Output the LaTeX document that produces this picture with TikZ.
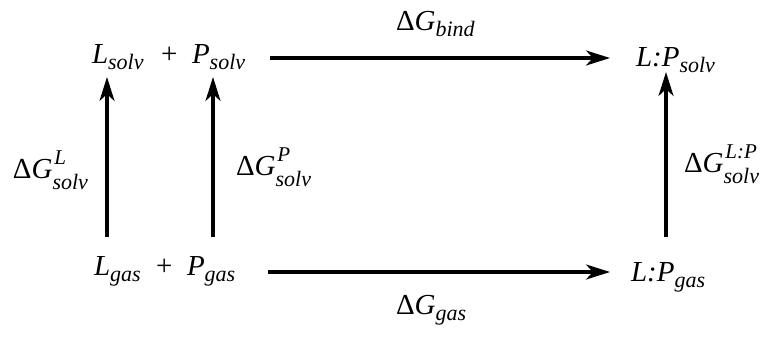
\documentclass[tikz,border=0pt]{standalone}
\usepackage{fontspec}
\setmainfont{Liberation Serif}
\usetikzlibrary{arrows.meta}
\newcommand\spc[2]{\textit{#1}\raisebox{-0.22em}{\fontsize{22}{22}\selectfont\textit{#2}}}
\newcommand\dGs[1]{Δ\textit{G}\raisebox{-0.22em}{\fontsize{22}{22}\selectfont\textit{#1}}}
\newcommand\dGsp[2]{Δ\textit{G}\makebox[0pt][l]{\hspace{0.06em}\raisebox{0.45em}{\fontsize{21}{21}\selectfont\textit{#1}}}\raisebox{-0.38em}{\fontsize{22}{22}\selectfont\textit{#2}}}
\begin{document}
\begin{tikzpicture}[x=1pt,y=-1pt,
  lbl/.style={inner sep=0pt,outer sep=0pt,font=\fontsize{29}{31}\selectfont},
  arr/.style={line width=3.2pt,-{Stealth[length=24pt,width=15pt,inset=7pt]}}]
\useasboundingbox (0,0) rectangle (767,340);
% species
\node[lbl,anchor=base west] (Lsolv) at (92,63) {\spc{L}{solv}};
\node[lbl,anchor=base west] (plus1) at (161,63) {+};
\node[lbl,anchor=base west] (Psolv) at (192,63) {\spc{P}{solv}};
\node[lbl,anchor=base west] (LPsolv) at (636,66) {\spc{L:P}{solv}};
\node[lbl,anchor=base west] (Lgas) at (94,275) {\spc{L}{gas}};
\node[lbl,anchor=base west] (plus2) at (156,275) {+};
\node[lbl,anchor=base west] (Pgas) at (187,275) {\spc{P}{gas}};
\node[lbl,anchor=base west] (LPgas) at (631,281) {\spc{L:P}{gas}};
% energy labels
\node[lbl,anchor=base west] (dGbind) at (396,30) {\dGs{bind}};
\node[lbl,anchor=base west] (dGgas) at (396,314) {\dGs{gas}};
\node[lbl,anchor=base east] (dGL) at (88,178) {\dGsp{L}{solv}};
\node[lbl,anchor=base west] (dGP) at (236,175) {\dGsp{P}{solv}};
\node[lbl,anchor=base west] (dGLP) at (684,172) {\dGsp{L:P}{solv}};
% arrow end points
\coordinate (tA) at (270,58);  \coordinate (tB) at (610,58);
\coordinate (bA) at (268,272); \coordinate (bB) at (610,272);
\coordinate (l1A) at (107,237); \coordinate (l1B) at (107,77);
\coordinate (l2A) at (213,237); \coordinate (l2B) at (213,77);
\coordinate (rA) at (666,237); \coordinate (rB) at (666,72);
\draw[arr] (tA) -- (tB);
\draw[arr] (bA) -- (bB);
\draw[arr] (l1A) -- (l1B);
\draw[arr] (l2A) -- (l2B);
\draw[arr] (rA) -- (rB);
\end{tikzpicture}
\end{document}
